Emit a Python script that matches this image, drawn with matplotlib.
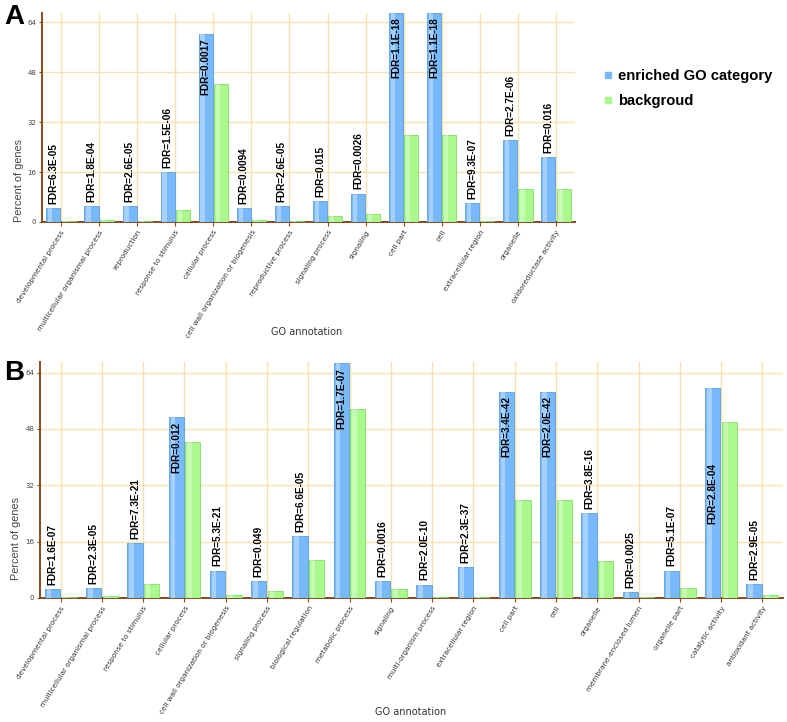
import numpy as np
import matplotlib
matplotlib.use("Agg")
import matplotlib.pyplot as plt
from matplotlib.lines import Line2D

# === DATOS PANEL A ===
cats_a = ["developmental process", "multicellular organismal process", "reproduction",
          "response to stimulus", "cellular process", "cell wall organization or biogenesis",
          "reproductive process", "signaling process", "signaling", "cell part", "cell",
          "extracellular region", "organelle", "oxidoreductase activity"]
enr_a = [4.5, 5.1, 5.1, 16.0, 60.4, 4.5, 5.1, 6.7, 9.1, 66.9, 66.9, 6.0, 26.2, 20.7]
bkg_a = [0.3, 0.5, 0.3, 4.0, 44.1, 0.8, 0.3, 1.8, 2.6, 27.8, 27.8, 0.2, 10.5, 10.5]
fdr_a = ["6.3E-05", "1.8E-04", "2.6E-05", "1.5E-06", "0.0017", "0.0094", "2.6E-05",
         "0.015", "0.0026", "1.1E-18", "1.1E-18", "9.3E-07", "2.7E-06", "0.016"]

# === DATOS PANEL B ===
cats_b = ["developmental process", "multicellular organismal process", "response to stimulus",
          "cellular process", "cell wall organization or biogenesis", "signaling process",
          "biological regulation", "metabolic process", "signaling", "multi-organism process",
          "extracellular region", "cell part", "cell", "organelle", "membrane-enclosed lumen",
          "organelle part", "catalytic activity", "antioxidant activity"]
enr_b = [2.6, 2.9, 15.7, 51.3, 7.8, 4.9, 17.6, 66.6, 4.9, 3.8, 8.8, 58.4, 58.5, 24.1,
         1.7, 7.8, 59.5, 4.0]
bkg_b = [0.3, 0.5, 4.0, 44.2, 0.8, 2.1, 10.8, 53.6, 2.5, 0.3, 0.3, 27.8, 27.8, 10.6,
         0.3, 2.8, 49.9, 0.85]
fdr_b = ["1.6E-07", "2.3E-05", "7.3E-21", "0.012", "5.3E-21", "0.049", "6.6E-05",
         "1.7E-07", "0.0016", "2.0E-10", "2.3E-37", "3.4E-42", "2.0E-42", "3.8E-16",
         "0.0025", "5.1E-07", "2.8E-04", "2.9E-05"]
# la etiqueta de "catalytic activity" aparece más abajo dentro de la barra
label_top_b = {16: 38.3}

yticks = [0, 16, 32, 48, 64]

BLUE = "#77b9fb"
BLUE_EDGE = "#5a9de6"
GREEN = "#a9f98c"
GREEN_EDGE = "#84dc68"
GRID = "#f6e2ae"
BROWN = "#8a4a1c"
H = 722.0


def panel(ax, cats, enr, bkg, fdr, label_top=None, ymax=67):
    label_top = label_top or {}
    x = np.arange(len(cats))
    bw = 0.37
    ax.bar(x - 0.2, enr, width=bw, color=BLUE, edgecolor=BLUE_EDGE, linewidth=0.6, zorder=3)
    ax.bar(x + 0.2, bkg, width=bw, color=GREEN, edgecolor=GREEN_EDGE, linewidth=0.6, zorder=3)
    # brillo lateral para dar volumen
    ax.bar(x - 0.2 - bw * 0.22, enr, width=bw * 0.3, color="white", alpha=0.35,
           linewidth=0, zorder=4)
    ax.bar(x + 0.2 - bw * 0.22, bkg, width=bw * 0.3, color="white", alpha=0.35,
           linewidth=0, zorder=4)

    # etiquetas FDR
    for i, (xi, v, f) in enumerate(zip(x, enr, fdr)):
        txt = "FDR=" + f
        kw = dict(rotation=90, ha="center", fontsize=7.2, fontweight="bold",
                  family="Liberation Sans", textcoords="offset points", zorder=5)
        if i in label_top:
            ax.annotate(txt, (xi - 0.2, label_top[i]), xytext=(0, 0), va="top", **kw)
        elif v + 19 > ymax:
            ax.annotate(txt, (xi - 0.2, v), xytext=(0, -3), va="top", **kw)
        else:
            ax.annotate(txt, (xi - 0.2, v), xytext=(0, 3), va="bottom", **kw)

    ax.set_xlim(-0.5, len(cats) - 0.5)
    ax.set_ylim(0, ymax)
    ax.set_yticks(yticks)
    ax.set_xticks(x)
    ax.set_xticklabels(cats, rotation=58, ha="right", rotation_mode="anchor",
                       fontsize=5.2, color="#333333")
    ax.tick_params(axis="y", labelsize=5, colors="#444444", length=2, color=BROWN, pad=2)
    ax.tick_params(axis="x", length=3, color=BROWN, pad=2)
    ax.grid(True, color=GRID, linewidth=1.0, zorder=0)
    ax.set_axisbelow(True)
    for s in ["top", "right"]:
        ax.spines[s].set_visible(False)
    for s in ["left", "bottom"]:
        ax.spines[s].set_color(BROWN)
        ax.spines[s].set_linewidth(1.4)
    ax.set_ylabel("Percent of genes", fontsize=7.8, family="Liberation Sans",
                  color="#444444")


fig = plt.figure(figsize=(7.87, 7.22), dpi=100)

ax_a = fig.add_axes([42 / 787, 1 - 222 / H, 533 / 787, 209 / H])
panel(ax_a, cats_a, enr_a, bkg_a, fdr_a)
ax_a.yaxis.set_label_coords(-0.033, 0.2)
fig.text(307 / 787, 1 - 332 / H, "GO annotation", ha="center", va="center",
         fontsize=7, color="#333333")

ax_b = fig.add_axes([40 / 787, 1 - 598 / H, 743 / 787, 236 / H])
panel(ax_b, cats_b, enr_b, bkg_b, fdr_b, label_top_b)
ax_b.yaxis.set_label_coords(-0.025, 0.25)
fig.text(411 / 787, 1 - 712 / H, "GO annotation", ha="center", va="center",
         fontsize=7, color="#333333")

# letras de panel
fig.text(4 / 787, 1 - 4 / H, "A", fontsize=20, fontweight="bold", va="top",
         family="Liberation Sans")
fig.text(4 / 787, 1 - 360 / H, "B", fontsize=20, fontweight="bold", va="top",
         family="Liberation Sans")

# leyenda
handles = [Line2D([], [], marker="s", linestyle="none", markersize=5,
                  markerfacecolor=BLUE, markeredgecolor=BLUE),
           Line2D([], [], marker="s", linestyle="none", markersize=5,
                  markerfacecolor=GREEN, markeredgecolor=GREEN)]
fig.legend(handles, ["enriched GO category", "backgroud"], loc="upper left",
           bbox_to_anchor=(590 / 787, 1 - 56 / H), frameon=False, handlelength=0.6,
           handletextpad=0.4, labelspacing=0.75,
           prop={"family": "Liberation Sans", "weight": "bold", "size": 10.6})

fig.savefig("out.png", dpi=100)
